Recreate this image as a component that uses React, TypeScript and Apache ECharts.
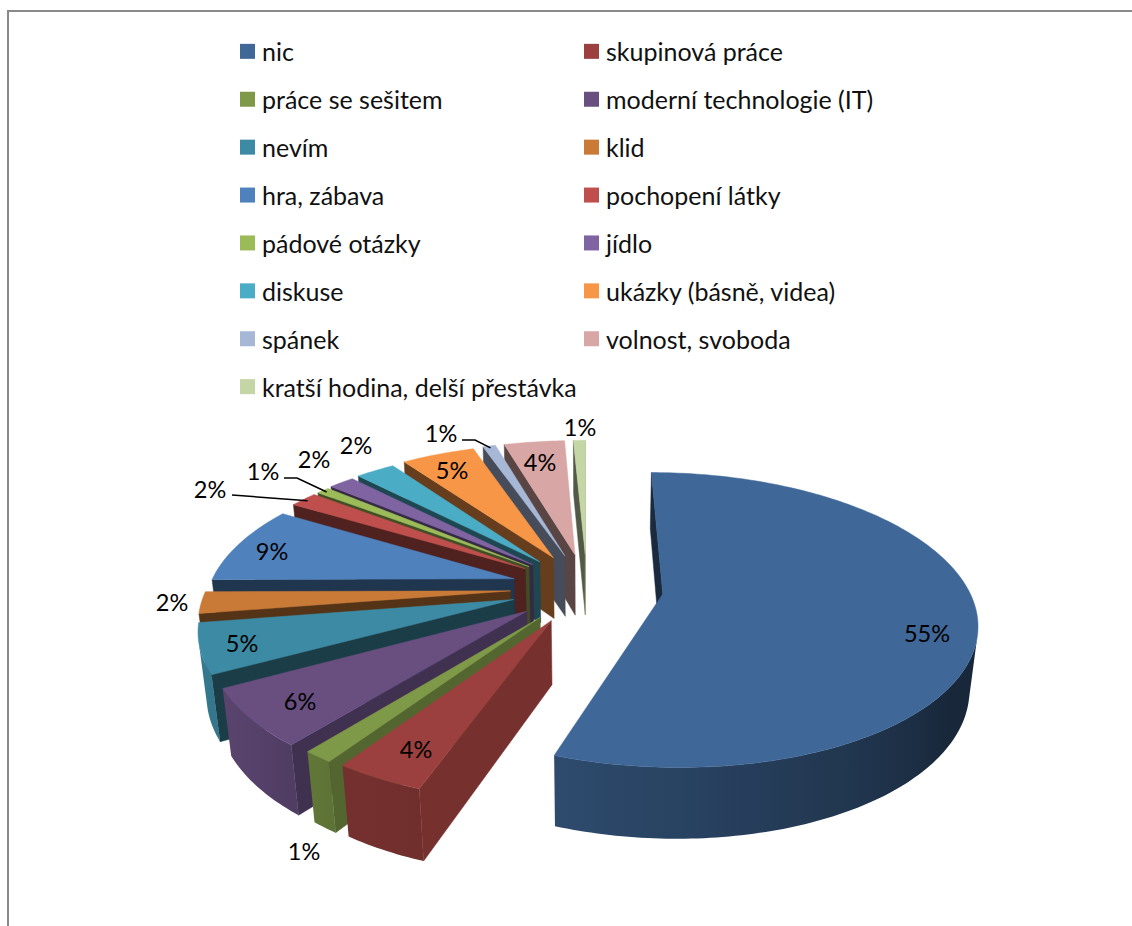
import React, { useEffect, useRef } from "react";
import * as echarts from "echarts";

const categories = [
  "nic", "skupinová práce", "práce se sešitem", "moderní technologie (IT)", "nevím",
  "klid", "hra, zábava", "pochopení látky", "pádové otázky", "jídlo",
  "diskuse", "ukázky (básně, videa)", "spánek", "volnost, svoboda", "kratší hodina, delší přestávka",
];
const percents = [55.4, 3.97, 1.33, 6.3, 5.45, 2.4, 8.7, 1.72, 0.8, 1.6, 2.44, 4.53, 0.78, 3.75, 0.75];
const faceColors = [
  "#3F6797", "#9B403E", "#7E9A48", "#684F80", "#3C8AA3",
  "#C97A36", "#4F81BD", "#BE4F4C", "#9BBB59", "#8064A2",
  "#4BACC6", "#F79646", "#A7B7D6", "#D8A6A5", "#C4D5A6",
];
// Small correction of each wedge's radius for the lens of the 3D view
const radiusScale = [1, 0.975, 0.98, 0.99, 0.995, 0.995, 1, 1.01, 1.01, 1.015, 1.02, 1.03, 1.035, 1.035, 1.035];

// Centres of the percentage labels, with optional elbow leaders
const labelCentres = [
  [927, 633], [416, 749], [304, 851], [300, 701], [242, 643],
  [172, 602], [272, 551], [210, 489], [263, 471], [314, 459],
  [356, 445], [452, 470], [441, 433], [540, 462], [580, 427],
];
const leaders: Record<number, number[][]> = {
  7: [[232, 495]],
  8: [[284, 478], [297, 478]],
  12: [[462, 440], [475, 440]],
};

const FONT = "Lato";

// Camera used to project the tilted pie onto the page
const CAM = { cx: 587, cy: 588, focal: 1548, dist: 5.07, sin: 0.461, cos: 0.887 };
const EXPLODE = 0.25;
const THICK = 0.235;

const rad = (d: number) => (d * Math.PI) / 180;
const dir = (deg: number) => [Math.sin(rad(deg)), Math.cos(rad(deg))];

function project(x: number, y: number, z: number) {
  const zc = CAM.dist + y * CAM.cos - z * CAM.sin;
  const yc = y * CAM.sin + z * CAM.cos;
  return [CAM.cx + (CAM.focal * x) / zc, CAM.cy - (CAM.focal * yc) / zc];
}
const eye = [0, -CAM.dist * CAM.cos];

const total = percents.reduce((s, v) => s + v, 0);
function spans() {
  let acc = 0;
  return percents.map((v) => {
    const from = (acc / total) * 360;
    acc += v;
    return [from, (acc / total) * 360];
  });
}
const sliceSpans = spans();

function lookup(table: number[][], at: number) {
  for (let i = 1; i < table.length; i++) {
    if (at <= table[i][0]) {
      const [a, va] = table[i - 1];
      const [b, vb] = table[i];
      return va + ((vb - va) * (at - a)) / (b - a);
    }
  }
  return table[table.length - 1][1];
}
// Brightness of the side faces by the direction they look at
const radialLight = [[0, 0.42], [90, 0.8], [108, 0.77], [126, 0.65], [147, 0.45], [180, 0.41], [270, 0.42], [360, 0.42]];
const rimLight = [[0, 0.38], [125, 0.38], [150, 0.52], [198, 0.72], [215, 0.75], [230, 0.83], [255, 0.9], [360, 0.9]];

function shade(hex: string, f: number) {
  const n = parseInt(hex.slice(1), 16);
  const ch = (s: number) => Math.round(((n >> s) & 255) * f);
  return `rgb(${ch(16)},${ch(8)},${ch(0)})`;
}

function sliceShapes(i: number) {
  const [a0, a1] = sliceSpans[i];
  const mid = (a0 + a1) / 2;
  const color = faceColors[i];
  const [mx, my] = dir(mid);
  const ox = mx * EXPLODE;
  const oy = my * EXPLODE;
  const radius = radiusScale[i];
  const rimAt = (deg: number, z: number) => {
    const [dx, dy] = dir(deg);
    return project(ox + dx * radius, oy + dy * radius, z);
  };
  const steps = Math.max(2, Math.ceil(a1 - a0));
  const angles: number[] = [];
  for (let k = 0; k <= steps; k++) angles.push(a0 + ((a1 - a0) * k) / steps);

  const apexTop = project(ox, oy, 0);
  const apexBottom = project(ox, oy, -THICK);
  const shapes: any[] = [];
  const poly = (points: number[][], fill: any) => ({
    type: "polygon",
    shape: { points },
    style: { fill, stroke: typeof fill === "string" ? fill : "none", lineWidth: 0.5 },
    silent: true,
  });

  const toEye = [eye[0] - ox, eye[1] - oy];
  const startNormal = dir(a0 - 90);
  const endNormal = dir(a1 + 90);
  if (toEye[0] * startNormal[0] + toEye[1] * startNormal[1] > 0) {
    const phi = (a0 - 90 + 360) % 360;
    shapes.push(poly([apexTop, rimAt(a0, 0), rimAt(a0, -THICK), apexBottom], shade(color, lookup(radialLight, phi))));
  }
  if (toEye[0] * endNormal[0] + toEye[1] * endNormal[1] > 0) {
    const phi = (a1 + 90) % 360;
    shapes.push(poly([apexTop, rimAt(a1, 0), rimAt(a1, -THICK), apexBottom], shade(color, lookup(radialLight, phi))));
  }

  // Outer wall: only the stretch of rim that faces the camera
  const seen = angles.filter((deg) => {
    const [dx, dy] = dir(deg);
    return (eye[0] - ox - dx) * dx + (eye[1] - oy - dy) * dy > 0;
  });
  if (seen.length > 1) {
    const top = seen.map((deg) => rimAt(deg, 0));
    const bottom = seen.map((deg) => rimAt(deg, -THICK));
    const all = top.concat(bottom);
    const minX = Math.min(...all.map((p) => p[0]));
    const maxX = Math.max(...all.map((p) => p[0]));
    const stops = seen
      .filter((_, k) => k % 6 === 0 || k === seen.length - 1)
      .map((deg) => ({
        offset: Math.min(1, Math.max(0, (rimAt(deg, 0)[0] - minX) / (maxX - minX))),
        color: shade(color, lookup(rimLight, deg)),
      }))
      .sort((p, q) => p.offset - q.offset);
    shapes.push(poly(top.concat(bottom.reverse()), new echarts.graphic.LinearGradient(0, 0, 1, 0, stops)));
  }

  shapes.push(poly([apexTop, ...angles.map((deg) => rimAt(deg, 0))], color));
  return shapes;
}

// Back slices are painted first so that nearer ones cover them
const paintOrder = percents
  .map((_, i) => i)
  .sort((p, q) => {
    const mid = (k: number) => (sliceSpans[k][0] + sliceSpans[k][1]) / 2;
    return Math.cos(rad(mid(q))) - Math.cos(rad(mid(p)));
  });

function labelShapes(i: number, value: number) {
  const [x, y] = labelCentres[i];
  const shapes: any[] = [
    {
      type: "text",
      x,
      y,
      silent: true,
      style: {
        text: `${Math.round(value)}%`,
        fontFamily: FONT,
        fontSize: 23.5,
        fill: "#000",
        textAlign: "center",
        textVerticalAlign: "middle",
      },
    },
  ];
  const bends = leaders[i];
  if (bends) {
    const [a0, a1] = sliceSpans[i];
    const mid = (a0 + a1) / 2;
    const [mx, my] = dir(mid);
    const reach = EXPLODE + 0.98 * radiusScale[i];
    const end = project(mx * reach, my * reach, 0);
    shapes.push({
      type: "polyline",
      silent: true,
      shape: { points: [...bends, end] },
      style: { stroke: "#000", lineWidth: 1.5, fill: "none" },
    });
  }
  return { type: "group", children: shapes };
}

const leftColumn = categories.filter((_, i) => i % 2 === 0);
const rightColumn = categories.filter((_, i) => i % 2 === 1);

function legendAt(left: number, names: string[]) {
  return {
    left,
    top: 33.35,
    orient: "vertical" as const,
    padding: 0,
    itemWidth: 15,
    itemHeight: 15,
    itemGap: 11.9,
    icon: "rect",
    selectedMode: false,
    data: names,
    textStyle: {
      fontFamily: FONT,
      fontSize: 25,
      lineHeight: 24,
      color: "#111",
      padding: [0, 0, 12, 2],
    },
  };
}

export default function App() {
  const ref = useRef<HTMLDivElement>(null);
  useEffect(() => {
    document.body.style.margin = "0";
    const chart = echarts.init(ref.current!, undefined, { renderer: "svg" });
    chart.setOption({
      animation: false,
      backgroundColor: "#fff",
      legend: [legendAt(240, leftColumn), legendAt(584, rightColumn)],
      graphic: [
        {
          type: "polyline",
          silent: true,
          shape: { points: [[8, 926], [8, 11], [1132, 11]] },
          style: { stroke: "#8a8a8a", lineWidth: 2, fill: "none" },
        },
      ],
      series: [
        ...paintOrder.map((i) => ({
          type: "custom",
          name: categories[i],
          coordinateSystem: "none",
          itemStyle: { color: faceColors[i] },
          data: [[percents[i]]],
          renderItem: () => ({ type: "group", children: sliceShapes(i) }),
        })),
        {
          type: "custom",
          name: "popisky",
          coordinateSystem: "none",
          z: 5,
          data: percents.map((v) => [v]),
          renderItem: (params: any, api: any) => labelShapes(params.dataIndex, api.value(0)),
        },
      ],
    });
    return () => chart.dispose();
  }, []);
  return <div ref={ref} style={{ position: "absolute", left: 0, top: 0, width: 1132, height: 926, overflow: "hidden" }} />;
}
